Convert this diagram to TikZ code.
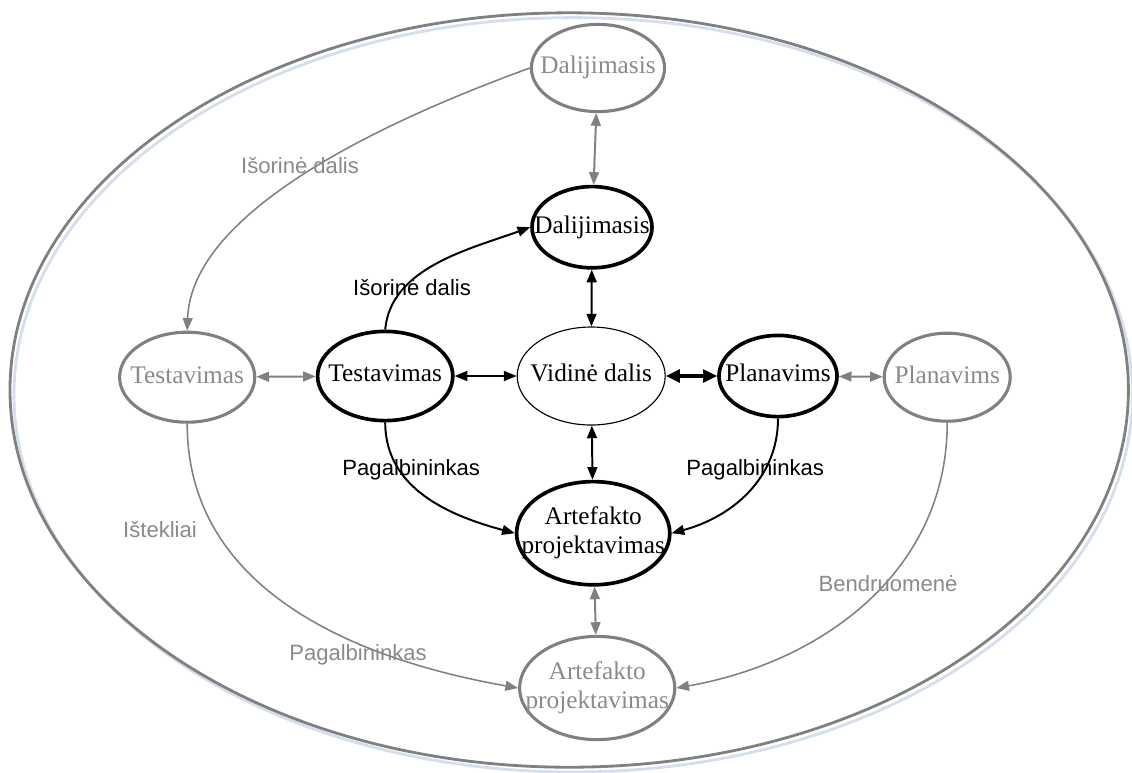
\documentclass[tikz,border=0pt]{standalone}
\usepackage{fontspec}
\setmainfont{Liberation Serif}
\newfontfamily\labelfont{Liberation Sans}
\usetikzlibrary{
  arrows.meta,
  positioning,
  shapes.geometric
}
\definecolor{outgray}{RGB}{128,128,128}
\definecolor{textgray}{RGB}{138,138,138}
\definecolor{rimblue}{RGB}{212,222,238}
\newcommand{\phasetext}[1]{\makebox[0pt]{\begin{tabular}{@{}c@{}}#1\end{tabular}}}
\tikzset{
  phase/.style = {ellipse, draw=black, line width=#1, inner sep=0pt,
      font=\fontsize{18}{21}\selectfont},
  phase/.default = 2.6pt, % border of the inner circle
  outphase/.style = {phase=2.2pt, draw=outgray, text=textgray},
  link/.style = {<->, line width=1.4pt},
  outlink/.style = {link, outgray},
  flow/.style = {->, line width=1.4pt},
  outflow/.style = {->, outgray, line width=1.1pt},
  tag/.style = {font=\labelfont\fontsize{15.7}{18}\selectfont},
  outtag/.style = {tag, text=textgray},
}

\begin{document}
\begin{tikzpicture}[>={Triangle[length=9pt, width=7pt]}]
  \useasboundingbox (0,0) rectangle (28.3,-19.3);

  % outer rim
  \draw[rimblue, line width=2pt] (14.33,-9.87) ellipse [x radius=13.98cm, y radius=9.43cm];
  \draw[outgray, line width=2pt] (14.23,-9.75) ellipse [x radius=13.98cm, y radius=9.43cm];

  \node[phase, minimum width=3.38cm, minimum height=2.23cm] (testI) at (9.63,-9.40) {\phasetext{Testavimas}};
  \node[phase=0.8pt, minimum width=3.70cm, minimum height=2.45cm] (vid) at (14.78,-9.40) {\phasetext{Vidinė dalis}};
  \node[phase, minimum width=2.95cm, minimum height=2.03cm] (planI) at (19.45,-9.40) {\phasetext{Planavims}};
  \node[phase, minimum width=3.00cm, minimum height=2.03cm] (dalI) at (14.80,-5.68) {\phasetext{Dalijimasis}};
  \node[phase, minimum width=3.83cm, minimum height=2.58cm] (artI) at (14.83,-13.33) {\phasetext{Artefakto\\projektavimas}};

  \node[outphase, minimum width=3.33cm, minimum height=2.18cm] (dalO) at (14.95,-1.70) {\phasetext{Dalijimasis}};
  \node[outphase, minimum width=3.38cm, minimum height=2.25cm] (testO) at (4.68,-9.43) {\phasetext{Testavimas}};
  \node[outphase, minimum width=3.15cm, minimum height=2.20cm] (planO) at (23.68,-9.43) {\phasetext{Planavims}};
  \node[outphase, minimum width=3.88cm, minimum height=2.58cm] (artO) at (14.93,-17.20) {\phasetext{Artefakto\\projektavimas}};

  \draw[link] (dalI) -- (vid);
  \draw[link] (testI) -- (vid);
  \draw[link] (vid) -- (artI);
  \draw[link, line width=2.2pt, >={Triangle[length=10pt, width=9pt]}] (vid) -- (planI);

  \draw[outlink] (dalO) -- (dalI);
  \draw[outlink] (testO) -- (testI);
  \draw[outlink] (planI) -- (planO);
  \draw[outlink] (artI) -- (artO);

  \draw[flow] (testI.north) to[out=85, in=200, looseness=0.9] (dalI.west);
  \draw[flow] (testI.south) to[out=-90, in=165] (artI.west);
  \draw[flow] (planI.south) to[out=-90, in=15] (artI.east);

  \draw[outflow] (dalO.west) to[out=200, in=88, looseness=0.75] (testO.north);
  \draw[outflow] (testO.south) to[out=-90, in=170] (artO.west);
  \draw[outflow] (planO.south) to[out=-90, in=10] (artO.east);

  \node[tag] (extI) at (10.30,-7.20) {Išorinė dalis};
  \node[tag] (helpL) at (10.28,-11.75) {Pagalbininkas};
  \node[tag] (helpR) at (18.88,-11.75) {Pagalbininkas};

  \node[outtag] (extO) at (7.50,-4.13) {Išorinė dalis};
  \node[outtag] (res) at (4.00,-13.25) {Ištekliai};
  \node[outtag] (helpO) at (8.95,-16.38) {Pagalbininkas};
  \node[outtag] (comm) at (22.20,-14.60) {Bendruomenė};
\end{tikzpicture}
\end{document}
